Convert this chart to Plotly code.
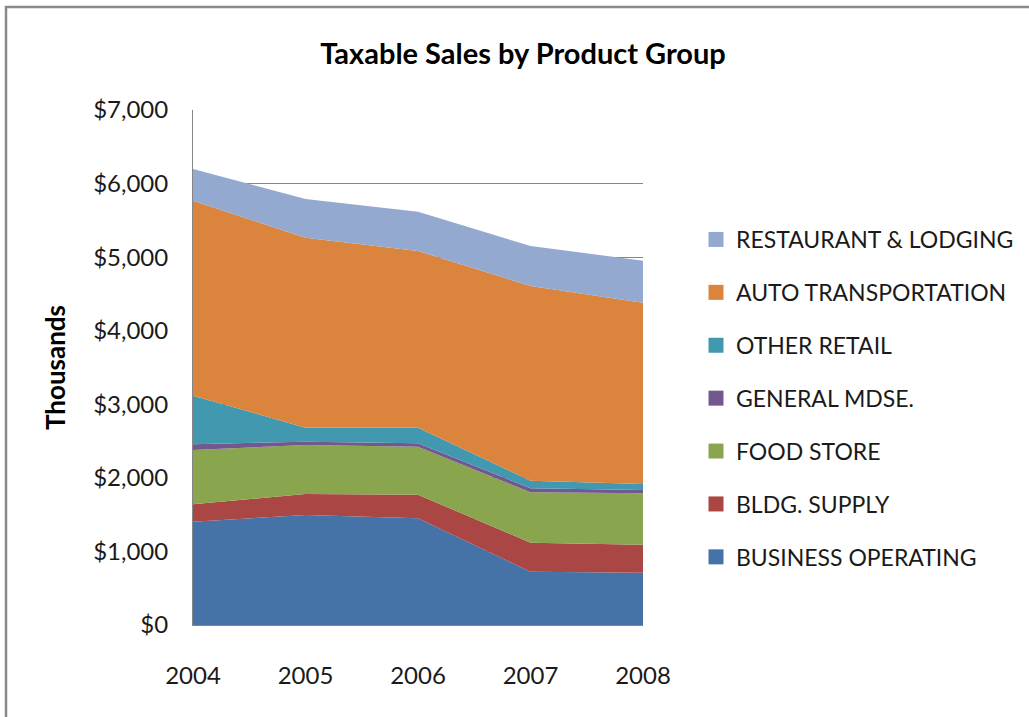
import plotly.graph_objects as go

# Taxable sales by product group, in thousands of dollars
years = [2004, 2005, 2006, 2007, 2008]
business_operating = [1404, 1495, 1450, 725, 711]
bldg_supply = [236, 286, 321, 394, 381]
food_store = [739, 666, 653, 685, 698]
general_mdse = [77, 45, 46, 54, 45]
other_retail = [661, 190, 212, 103, 82]
auto_transportation = [2650, 2582, 2402, 2647, 2464]
restaurant_lodging = [431, 526, 534, 543, 571]

# bottom-to-top stacking order
series = [
    ("BUSINESS OPERATING", business_operating, "#4572A7"),
    ("BLDG. SUPPLY", bldg_supply, "#AA4643"),
    ("FOOD STORE", food_store, "#89A54E"),
    ("GENERAL MDSE.", general_mdse, "#71588F"),
    ("OTHER RETAIL", other_retail, "#4198AF"),
    ("AUTO TRANSPORTATION", auto_transportation, "#DB843D"),
    ("RESTAURANT & LODGING", restaurant_lodging, "#93A9CF"),
]

FONT = "Lato"
GRAY = "#868686"
TEXT = "#1a1a1a"

fig = go.Figure()

for name, vals, color in series:
    fig.add_trace(go.Scatter(
        x=years, y=vals, name=name, stackgroup="sales",
        mode="none", fillcolor=color, showlegend=False,
    ))

# legend entries listed top series first, with square swatches
for i, (name, vals, color) in enumerate(reversed(series)):
    fig.add_trace(go.Scatter(
        x=[None], y=[None], name=name, mode="markers",
        marker=dict(symbol="square", size=15, color=color),
        legendgroup=f"g{i}", showlegend=True,
    ))

L, R, T, B = 193, 643, 110, 625
W, H = 1029, 717

def px_x(p):
    return (p - L) / (R - L)

def px_y(p):
    return (B - p) / (B - T)

fig.update_layout(
    width=W, height=H, autosize=False,
    margin=dict(l=L, r=W - R, t=T, b=H - B, pad=0, autoexpand=False),
    paper_bgcolor="white", plot_bgcolor="white",
    font=dict(family=FONT, size=23, color=TEXT),
    title=dict(
        text="<b>Taxable Sales by Product Group</b>",
        x=523 / W, xanchor="center", y=1 - 54 / H, yanchor="middle",
        font=dict(family=FONT, size=29, color="#000000"),
    ),
    showlegend=True,
    legend=dict(
        x=px_x(696), xanchor="left", y=px_y(218), yanchor="top",
        traceorder="grouped", tracegroupgap=20, itemwidth=30,
        font=dict(family=FONT, size=23, color=TEXT),
        bgcolor="rgba(0,0,0,0)",
    ),
    xaxis=dict(
        type="linear", range=[2004, 2008],
        tickvals=years, ticktext=[str(y) for y in years],
        showgrid=False, zeroline=False,
        showline=True, linecolor=GRAY, linewidth=1,
        ticks="", ticklabelstandoff=29,
        tickfont=dict(family=FONT, size=24, color=TEXT),
    ),
    yaxis=dict(
        range=[0, 7000], dtick=1000, tick0=0,
        tickprefix="$", tickformat=",d",
        showgrid=True, gridcolor=GRAY, gridwidth=1,
        zeroline=False, showline=True, linecolor=GRAY, linewidth=1,
        ticks="", ticklabelstandoff=19,
        tickfont=dict(family=FONT, size=24, color=TEXT),
        title=dict(text="<b>Thousands</b>", standoff=20,
                   font=dict(family=FONT, size=26, color="#000000")),
    ),
    shapes=[
        # outer chart frame (top and left edges visible)
        dict(type="rect", xref="paper", yref="paper",
             x0=px_x(6), x1=px_x(1060), y0=px_y(760), y1=px_y(7),
             line=dict(color="#8a8a8a", width=2.5), layer="below"),
    ],
)

fig.write_html("out.html")
